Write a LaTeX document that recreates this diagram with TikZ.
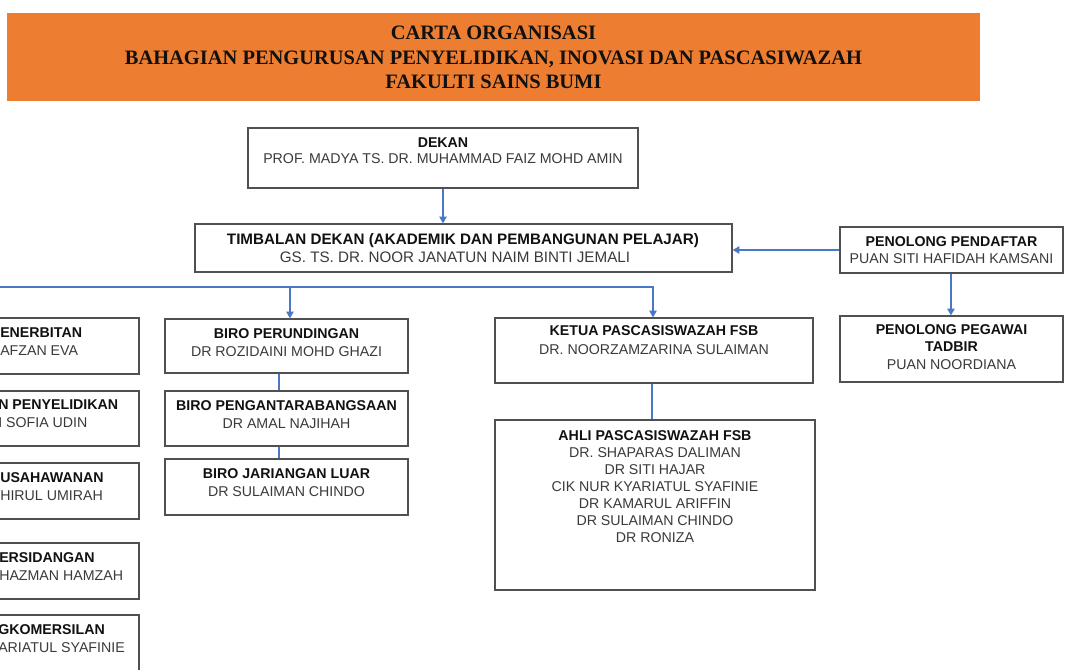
\documentclass[tikz,border=0pt]{standalone}
\usepackage{fontspec}
\setmainfont{Liberation Sans}
\newfontfamily\hdrfont{Liberation Serif}
\usetikzlibrary{arrows.meta}
\definecolor{hdrorange}{HTML}{ED7D31}
\definecolor{lineblue}{HTML}{4A78C8}
\definecolor{boxgray}{HTML}{505050}
\definecolor{namegray}{HTML}{3A3A3A}
\definecolor{titleblack}{HTML}{111111}
\begin{document}
\begin{tikzpicture}[x=0.75pt,y=-0.75pt,
  sz/.style 2 args={minimum width=#1*0.75pt, minimum height=#2*0.75pt},
  orgbox/.style={draw=boxgray, line width=1pt, fill=white, inner sep=0pt},
  txt/.style={inner sep=0pt, align=center, anchor=north, text=titleblack,
    font=\fontsize{10.65}{#1}\selectfont},
  ltxt/.style={inner sep=0pt, align=left, anchor=north west, text=titleblack,
    font=\fontsize{10.65}{13.9}\selectfont},
  conn/.style={draw=lineblue, line width=0.9pt},
  arr/.style={conn, -{Triangle[width=5.5pt,length=5pt]}}]
\useasboundingbox (0,0) rectangle (1065,669);
\clip (0,0) rectangle (1065,669);
\newcommand{\nm}[1]{{\color{namegray}\mdseries #1}}
% header
\node[fill=hdrorange, sz={973}{88}, inner sep=0pt] (hdr) at (493.5,57) {};
\node[inner sep=0pt, anchor=north, align=center, text=titleblack,
  font=\hdrfont\bfseries\fontsize{15.35}{18.4}\selectfont] (hdrt) at (493.5,26)
  {CARTA ORGANISASI\\BAHAGIAN PENGURUSAN PENYELIDIKAN, INOVASI DAN PASCASIWAZAH\\FAKULTI SAINS BUMI};
% top boxes
\node[orgbox, sz={390}{60}] (dekan) at (443,158) {};
\node[txt=12pt] (dekant) at (443,137) {\bfseries DEKAN\\\nm{PROF. MADYA TS. DR. MUHAMMAD FAIZ MOHD AMIN}};
\node[orgbox, sz={537}{48}] (timb) at (463.5,248) {};
\node[txt=13.5pt, font=\fontsize{11.4}{13.5}\selectfont] (timbt) at (463,233.5)
  {\bfseries TIMBALAN DEKAN (AKADEMIK DAN PEMBANGUNAN PELAJAR)\\\nm{GS. TS. DR. NOOR JANATUN NAIM BINTI JEMALI}\hspace*{12pt}};
\node[orgbox, sz={223}{46}] (pend) at (951.5,250) {};
\node[txt=12.75pt] (pendt) at (951.5,236) {\bfseries PENOLONG PENDAFTAR\\\nm{PUAN SITI HAFIDAH KAMSANI}};
\node[orgbox, sz={223}{66}] (peg) at (951.5,349) {};
\node[txt=13.1pt] (pegt) at (951.5,324) {\bfseries PENOLONG PEGAWAI\\\bfseries TADBIR\\\nm{PUAN NOORDIANA}};
% left column (cut by the page edge)
\node[orgbox, sz={270}{56}] (l1) at (4,346) {};
\node[ltxt] (l1t) at (0,327) {\bfseries ENERBITAN\\\nm{AFZAN EVA}};
\node[orgbox, sz={270}{55}] (l2) at (4,418.5) {};
\node[ltxt] (l2t) at (-2,399) {\bfseries N PENYELIDIKAN\\\nm{I SOFIA UDIN}};
\node[orgbox, sz={270}{56}] (l3) at (4,491) {};
\node[ltxt] (l3t) at (0,472) {\bfseries USAHAWANAN\\\nm{HIRUL UMIRAH}};
\node[orgbox, sz={270}{56}] (l4) at (4,571) {};
\node[ltxt] (l4t) at (-1,552) {\bfseries ERSIDANGAN\\\nm{HAZMAN HAMZAH}};
\node[orgbox, sz={270}{56}] (l5) at (4,643) {};
\node[ltxt] (l5t) at (-2,624) {\bfseries GKOMERSILAN\\\nm{ARIATUL SYAFINIE}};
% middle column
\node[orgbox, sz={243}{54}] (pr) at (286.5,346) {};
\node[txt=13.5pt] (prt) at (286.5,328) {\bfseries BIRO PERUNDINGAN\\\nm{DR ROZIDAINI MOHD GHAZI}};
\node[orgbox, sz={243}{55}] (pa) at (286.5,418.5) {};
\node[txt=13.5pt] (pat) at (286.5,400) {\bfseries BIRO PENGANTARABANGSAAN\\\nm{DR AMAL NAJIHAH}};
\node[orgbox, sz={243}{56}] (jl) at (286.5,487) {};
\node[txt=13.5pt] (jlt) at (286.5,468) {\bfseries BIRO JARIANGAN LUAR\\\nm{DR SULAIMAN CHINDO}};
% pascasiswazah
\node[orgbox, sz={318}{65}] (ketua) at (654,350.5) {};
\node[txt=14.25pt] (ketuat) at (654,325) {\bfseries KETUA PASCASISWAZAH FSB\\\nm{DR. NOORZAMZARINA SULAIMAN}};
\node[orgbox, sz={320}{170}] (ahli) at (655,505) {};
\node[txt=12.75pt] (ahlit) at (655,430) {\bfseries AHLI PASCASISWAZAH FSB\\
  \nm{DR. SHAPARAS DALIMAN}\\\nm{DR SITI HAJAR}\\\nm{CIK NUR KYARIATUL SYAFINIE}\\
  \nm{DR KAMARUL ARIFFIN}\\\nm{DR SULAIMAN CHINDO}\\\nm{DR RONIZA}};
% connectors
\coordinate (hl) at (-5,287);
\draw[arr] (dekan.south) -- (dekan.south |- timb.north);
\draw[arr] (pend.west) -- (pend.west -| timb.east);
\draw[arr] ([xshift=-0.4pt]pend.south) -- ([xshift=-0.4pt]peg.north);
\draw[arr] (hl) -| ([xshift=-0.75pt]ketua.north);
\draw[arr] ([xshift=2.6pt]pr.north |- hl) -- ([xshift=2.6pt]pr.north);
\draw[conn] ([xshift=-5.6pt]pr.south) -- ([xshift=-5.6pt]pa.north);
\draw[conn] ([xshift=-5.6pt]pa.south) -- ([xshift=-5.6pt]jl.north);
\draw[conn] ([xshift=-1.5pt]ketua.south) -- ([xshift=-1.5pt]ketua.south |- ahli.north);
\end{tikzpicture}
\end{document}
